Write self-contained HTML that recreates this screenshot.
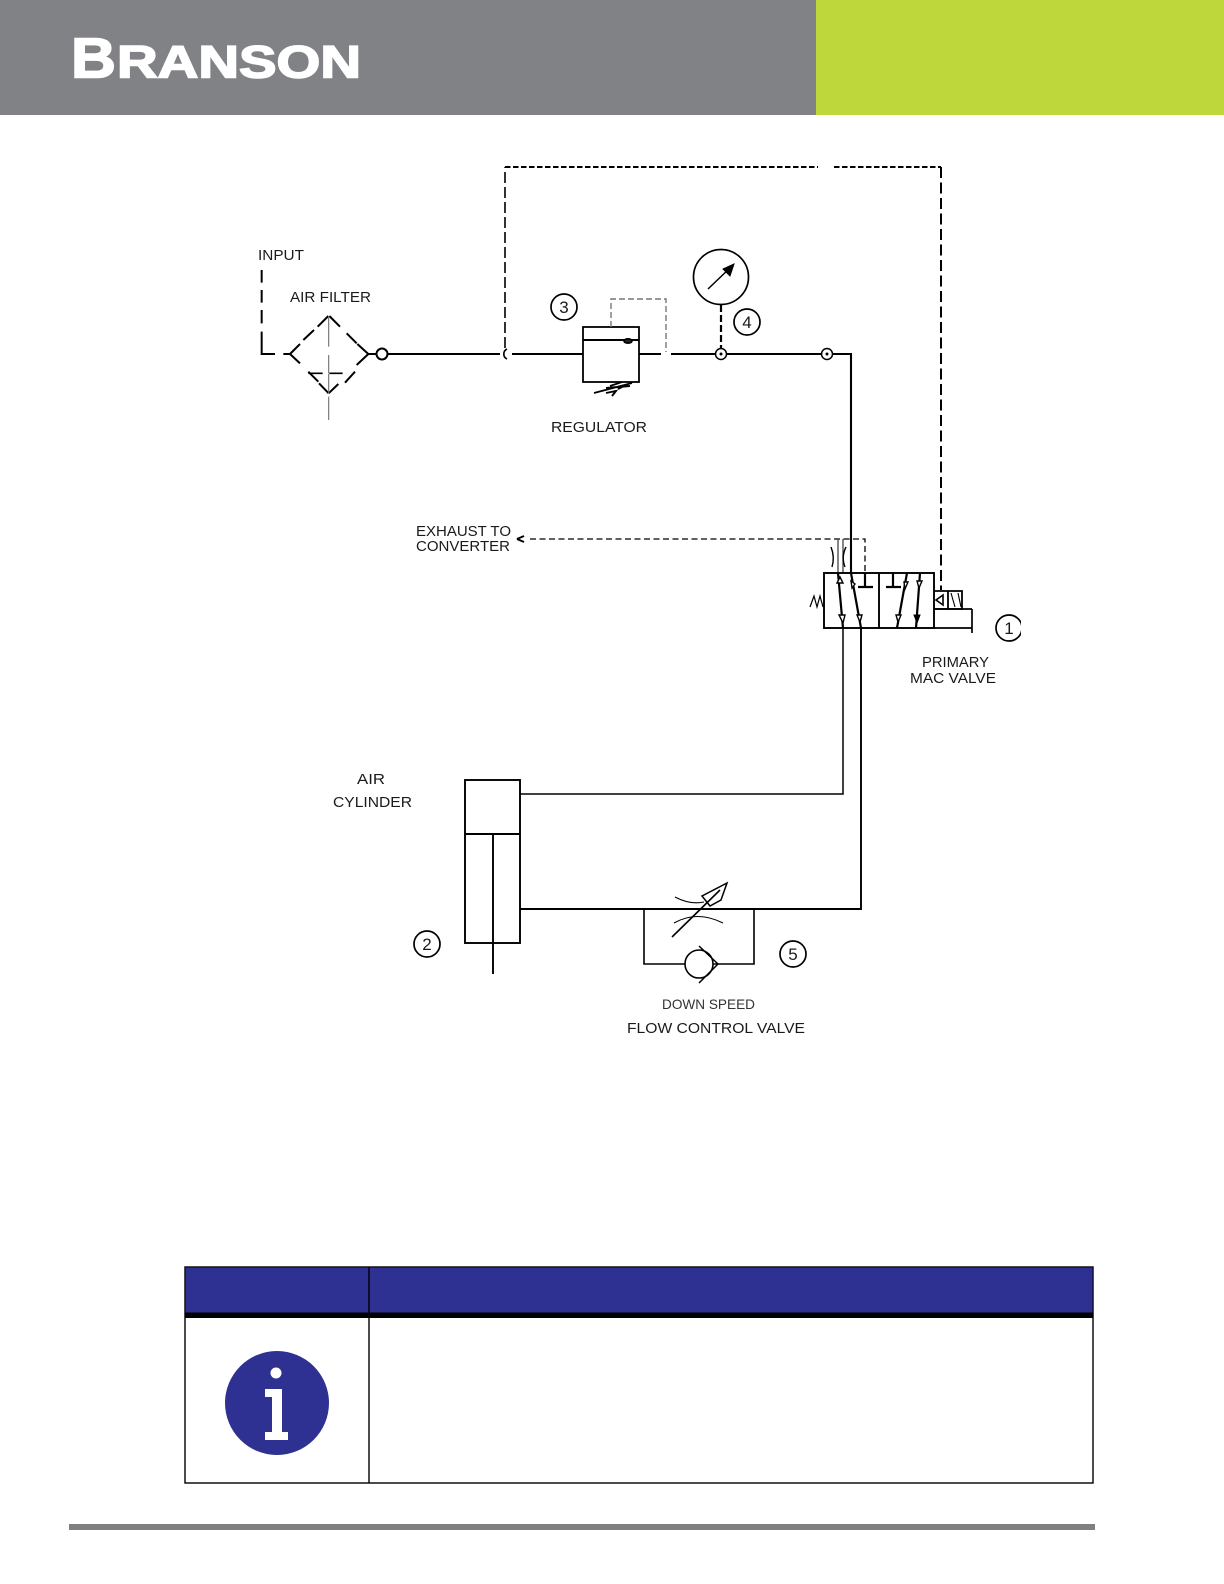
<!DOCTYPE html>
<html><head><meta charset="utf-8"><style>
html,body{margin:0;padding:0;background:#fff;width:1224px;height:1584px;overflow:hidden}
svg{display:block}
text{font-family:"Liberation Sans",sans-serif;font-size:15px;fill:#1a1a1a}
.n{fill:#111}
</style></head><body>
<svg width="1224" height="1584" viewBox="0 0 1224 1584" xmlns="http://www.w3.org/2000/svg">
<defs><clipPath id="c1"><rect x="990" y="600" width="31" height="60"/></clipPath></defs>
<rect width="1224" height="1584" fill="#fff"/>
<rect width="816" height="115" fill="#808285"/>
<rect x="816" width="408" height="115" fill="#bed73b"/>
<text x="71" y="77.5" style="font-size:57px;font-weight:bold;fill:#fff;stroke:#fff;stroke-width:1.6" textLength="45" lengthAdjust="spacingAndGlyphs">B</text>
<text x="117" y="77.5" style="font-size:45px;font-weight:bold;fill:#fff;stroke:#fff;stroke-width:1.6" textLength="244" lengthAdjust="spacingAndGlyphs">RANSON</text>

<g fill="none" stroke="#000" stroke-width="2">
<!-- pilot dashed loop -->
<path d="M505 348V167" stroke-dasharray="11 4" stroke-width="1.6"/>
<path d="M505 167H818M834 167H941" stroke-dasharray="5.5 2.5"/>
<path d="M941 167V590" stroke-dasharray="11 4.5"/>
<!-- input and filter, drawn in 3x zoom coordinates -->
<g transform="translate(240 230) scale(.33333)" stroke-width="6">
<path d="M65 120V158M65 180V218M65 240V280M65 305V372H105M130 372H150"/>
<path d="M233 290L265 258M268 258L300 290M190 330L222 300M320 310L350 340M150 372L180 342M352 342L385 372M150 372L180 400M385 372L350 405M205 425L235 455M345 425L315 458M237 460L266 490M295 462L266 490"/>
<path d="M205 430H248M268 430H308" stroke-width="5"/>
<path d="M266 258V350M266 375V430M266 432V490M266 500V570" stroke="#777" stroke-width="3.5"/>
</g>
<!-- main line -->
<path d="M368 354H377M388 354H500M512 354H583M639 354H661M671 354H715M727 354H821M833 354H851V573" stroke-width="2.1"/>
<circle cx="382" cy="354" r="5.5"/>
<path d="M507 349A5.5 5.5 0 0 0 507 359" stroke-width="1.6"/>
<!-- regulator -->
<rect x="583" y="327" width="56" height="55" stroke-width="1.8"/>
<path d="M583 340H639" stroke-width="2"/>
<ellipse cx="628" cy="341" rx="4" ry="2.2" fill="#222" stroke-width="1.6"/>
<path d="M611 327V299H666V352" stroke="#777" stroke-width="1.4" stroke-dasharray="6 3"/>
<path d="M594 393L632 383M606 388L630 386M612 396L616 391L606 393M610 386L622 382M618 389L628 384" stroke-width="1.9"/>
<!-- gauge -->
<circle cx="721" cy="277" r="27.5" stroke-width="1.7"/>
<path d="M708 289L731 267" stroke-width="1.5"/>
<path d="M734 264L723 269L730 276Z" fill="#000" stroke-width="1"/>
<path d="M721 305V348" stroke-dasharray="7 3" stroke-width="2.2"/>
<circle cx="721" cy="354" r="5.5" stroke-width="1.5"/>
<circle cx="827" cy="354" r="5.5" stroke-width="1.5"/>
<circle cx="721" cy="354" r="1" fill="#000" stroke-width="1"/>
<circle cx="827" cy="354" r="1" fill="#000" stroke-width="1"/>
<!-- numbered circles -->
<g stroke-width="1.7">
<circle cx="564" cy="307" r="13"/>
<circle cx="747" cy="322" r="13"/>
<circle cx="1009" cy="628" r="13" clip-path="url(#c1)"/>
<circle cx="427" cy="944" r="13"/>
<circle cx="793" cy="954" r="13"/>
</g>
<!-- exhaust -->
<path d="M530 539H865V573" stroke-width="1.3" stroke-dasharray="6 3.5"/>
<path d="M517 539L524 536M517 539L524 542" stroke-width="2"/>
<path d="M838 539V573M843 539V573" stroke-width="1.3" stroke="#444"/>
<path d="M831 547Q835 557 832 567" stroke-width="1.4"/>
<path d="M846 547Q841 557 845 567" stroke-width="1.4"/>
<!-- valve -->
<rect x="824" y="573" width="110" height="55" stroke-width="1.9"/>
<path d="M879 573V628" stroke-width="1.9"/>
<path d="M838 573L843 628M851 573L861 628M865 573V587M858 587H873M893 573V587M886 587H901M907 573L897 628M920 573L916 628" stroke-width="2.2"/>
<g stroke-width="1.4" fill="#fff">
<path d="M837 583H843L840 577Z"/>
<path d="M851 581L855 584L852 588Z"/>
<path d="M839 615L845 615L843 623Z"/>
<path d="M857 615L862 615L860 622Z"/>
<path d="M904 582L908 582L905 589Z"/>
<path d="M917 581L922 581L919 588Z"/>
<path d="M896 615L901 615L898 622Z"/>
</g>
<path d="M914 615L920 615L917 623Z" fill="#000" stroke-width="1"/>
<path d="M934 591H962V609H934M948 591V609" stroke-width="1.8"/>
<path d="M934 609H972M972 609V633M934 628H972" stroke-width="1.7"/>
<path d="M943 595L943 605L936 600Z" stroke-width="1.6"/>
<path d="M951 593L955 607M958 593L961 607" stroke-width="1.1"/>
<path d="M810 607L814 596L817 607L820 596L823 607" stroke-width="1.2"/>
<!-- lower lines -->
<path d="M843 628V794H520" stroke-width="1.5"/>
<path d="M861 628V909H520" stroke-width="1.9"/>
<!-- cylinder -->
<rect x="465" y="780" width="55" height="163" stroke-width="1.9"/>
<path d="M465 834H520M493 834V974" stroke-width="1.9"/>
<!-- flow control -->
<path d="M644 909V964H685M713 964H754V909" stroke-width="1.6"/>
<circle cx="699" cy="964" r="14" stroke-width="1.6"/>
<path d="M699 946L718 964L699 983" stroke-width="1.5"/>
<path d="M672 937L720 890" stroke-width="1.6"/>
<path d="M727 883L702 896L710 906L721 900Z" stroke-width="1.5"/>
<path d="M675 897Q690 905 704 902" stroke-width="1.1"/>
<path d="M674 923Q697 910 723 923" stroke-width="1.1"/>
<!-- table -->
<rect x="185" y="1267" width="908" height="216" stroke-width="1.4"/>
</g>
<rect x="185" y="1267" width="908" height="46" fill="#2e3192" stroke="#000" stroke-width="1"/>
<rect x="185" y="1313" width="908" height="5" fill="#000"/>
<rect x="368.3" y="1267" width="1.4" height="216" fill="#000"/>
<circle cx="277" cy="1403" r="52" fill="#2e3192"/>
<circle cx="276" cy="1373" r="5.5" fill="#fff"/>
<path d="M265 1389H282V1432H288V1440H265V1432H272V1397H265Z" fill="#fff"/>
<rect x="69" y="1524" width="1026" height="6" fill="#808080"/>

<text x="258" y="260" textLength="46" lengthAdjust="spacingAndGlyphs">INPUT</text>
<text x="290" y="302" textLength="81" lengthAdjust="spacingAndGlyphs">AIR FILTER</text>
<text x="551" y="432" textLength="96" lengthAdjust="spacingAndGlyphs">REGULATOR</text>
<text x="416" y="536" textLength="95" lengthAdjust="spacingAndGlyphs">EXHAUST TO</text>
<text x="416" y="551" textLength="94" lengthAdjust="spacingAndGlyphs">CONVERTER</text>
<text x="922" y="667" textLength="67" lengthAdjust="spacingAndGlyphs">PRIMARY</text>
<text x="910" y="683" textLength="86" lengthAdjust="spacingAndGlyphs">MAC VALVE</text>
<text x="357" y="784" textLength="28" lengthAdjust="spacingAndGlyphs">AIR</text>
<text x="333" y="807" textLength="79" lengthAdjust="spacingAndGlyphs">CYLINDER</text>
<text x="662" y="1009" style="font-size:14px;fill:#333" textLength="93" lengthAdjust="spacingAndGlyphs">DOWN SPEED</text>
<text x="627" y="1033" textLength="178" lengthAdjust="spacingAndGlyphs">FLOW CONTROL VALVE</text>
<g text-anchor="middle" class="n">
<text x="564" y="313" style="font-size:17px">3</text>
<text x="747" y="328" style="font-size:17px">4</text>
<text x="1009" y="634" style="font-size:17px">1</text>
<text x="427" y="950" style="font-size:17px">2</text>
<text x="793" y="960" style="font-size:17px">5</text>
</g>
</svg>
</body></html>
